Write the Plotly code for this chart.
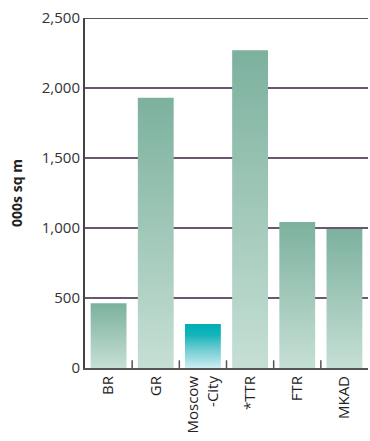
import plotly.graph_objects as go

categories = ["BR", "GR", "Moscow<br>-City", "*TTR", "FTR", "MKAD"]
values = [462, 1930, 315, 2270, 1043, 993]
highlight = [False, False, True, False, False, False]
y_ticks = [0, 500, 1000, 1500, 2000, 2500]
y_ticktext = ["0", "500", "1,000", "1,500", "2,000", "2,500"]

green_scale = [[0, "#c6dfd5"], [1, "#7cb19e"]]
teal_scale = [[0, "#cdeef1"], [0.5, "#5cc6cc"], [0.75, "#12b4bb"], [1, "#00adb5"]]

half = 0.38
fig = go.Figure()
for i, (c, v, h) in enumerate(zip(categories, values, highlight)):
    xs = [i - half, i + half, i + half, i - half, i - half]
    ys = [0, 0, v, v, 0]
    fig.add_trace(go.Scatter(
        x=xs, y=ys, mode="lines", fill="toself",
        line=dict(width=0, color="rgba(0,0,0,0)"),
        fillgradient=dict(type="vertical", colorscale=teal_scale if h else green_scale),
        hoverinfo="skip", showlegend=False,
    ))

font = "Open Sans, Lato, sans-serif"
fig.update_layout(
    width=370, height=441,
    margin=dict(l=85, r=2, t=18, b=73),
    paper_bgcolor="white", plot_bgcolor="white",
    font=dict(family=font, size=14, color="#333333"),
    xaxis=dict(
        range=[-0.5, 5.5], tickmode="array",
        tickvals=list(range(len(categories))), ticktext=categories,
        tickangle=-90, showgrid=False, zeroline=False,
        showline=True, linecolor="#555555", linewidth=2,
        ticks="", tickfont=dict(size=15, color="#222222"),
    ),
    yaxis=dict(
        range=[0, 2500], tickmode="array", tickvals=y_ticks, ticktext=y_ticktext,
        showgrid=True, gridcolor="#6b5570", gridwidth=2, zeroline=False,
        showline=True, linecolor="#444444", linewidth=2,
        ticks="", tickfont=dict(size=15, color="#333333"),
        title=dict(text="<b>000s sq m</b>", font=dict(size=14, color="#222222"), standoff=16),
    ),
)
# inside tick marks at category boundaries
for b in [0.5, 1.5, 2.5, 3.5, 4.5]:
    fig.add_shape(type="line", xref="x", yref="y", x0=b, x1=b, y0=0, y1=55,
                  line=dict(color="#555555", width=1.5), layer="below")
# top border line
fig.add_shape(type="line", xref="paper", yref="y", x0=0, x1=1, y0=2500, y1=2500,
              line=dict(color="#222222", width=1.5))

fig.write_html("out.html")
